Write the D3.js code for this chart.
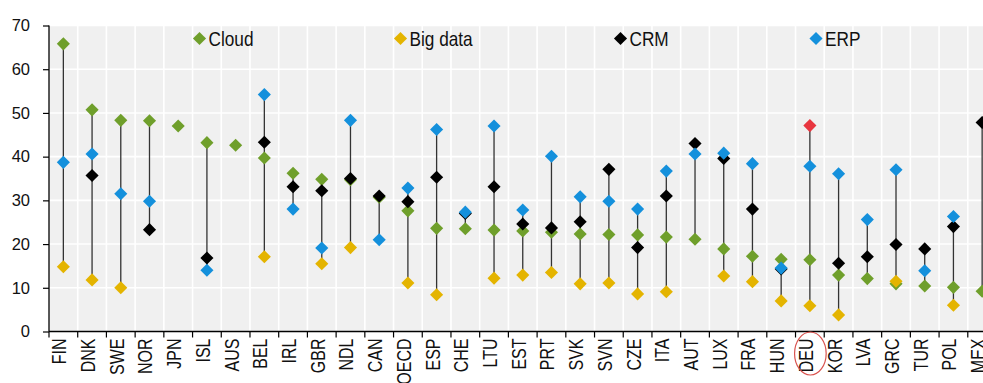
<!DOCTYPE html>
<html>
<head>
<meta charset="utf-8">
<script src="https://cdn.jsdelivr.net/npm/d3@7"></script>
<style>
  html, body { margin: 0; padding: 0; background: #ffffff; overflow: hidden; }
  svg { display: block; }
</style>
</head>
<body>
<div id="chart"></div>
<script>
// Countries along the horizontal axis
const categories = ["FIN","DNK","SWE","NOR","JPN","ISL","AUS","BEL","IRL","GBR","NDL","CAN","OECD","ESP","CHE","LTU","EST","PRT","SVK","SVN","CZE","ITA","AUT","LUX","FRA","HUN","DEU","KOR","LVA","GRC","TUR","POL","MEX"];

// Share of firms using each technology (%); null = not available
const cloud   = [65.8,50.7,48.3,48.2,47.0,43.2,42.6,39.7,36.2,34.8,34.7,30.7,27.6,23.6,23.5,23.2,23.0,22.7,22.3,22.2,22.1,21.6,21.1,18.9,17.2,16.5,16.4,12.9,12.1,10.9,10.4,10.1,9.2];
const bigData = [14.8,11.8,10.0,null,null,null,null,17.1,null,15.5,19.2,null,11.1,8.4,null,12.2,12.9,13.5,10.9,11.1,8.6,9.1,null,12.7,11.4,7.0,5.9,3.8,null,11.5,null,6.0,null];
const crm     = [null,35.7,null,23.3,null,16.8,null,43.3,33.1,32.2,35.0,31.0,29.7,35.3,27.0,33.1,24.6,23.7,25.1,37.1,19.2,31.0,43.0,39.6,28.0,14.3,47.1,15.6,17.1,19.9,18.9,24.0,47.8];
const erp     = [38.7,40.6,31.5,29.8,null,14.0,null,54.2,28.0,19.1,48.3,21.0,32.8,46.2,27.3,47.0,27.8,40.1,30.8,29.8,28.0,36.7,40.6,40.8,38.4,14.5,37.8,36.1,25.6,37.0,13.9,26.3,null];

const seriesNames = ["Cloud","Big data","CRM","ERP"];
const yTicks = [0,10,20,30,40,50,60,70];
const highlightCountry = "DEU";

const colors = { "Cloud": "#6f9f2b", "Big data": "#e4b400", "CRM": "#000000", "ERP": "#1490dc" };
const highlightColor = "#e8363f";

const series = [
  { name: "Cloud", values: cloud },
  { name: "Big data", values: bigData },
  { name: "CRM", values: crm },
  { name: "ERP", values: erp }
];

// Pick a condensed face if one is installed, otherwise squeeze the regular one
function fontExists(name) {
  const ctx = document.createElement("canvas").getContext("2d");
  const probe = "FIN Cloud Big data mmmWW";
  ctx.font = "20px monospace";
  const base = ctx.measureText(probe).width;
  ctx.font = `20px '${name}', monospace`;
  return ctx.measureText(probe).width !== base;
}
const narrowAvailable = fontExists("Liberation Sans Narrow");
const narrowFamily = narrowAvailable ? "'Liberation Sans Narrow', 'Arial Narrow', sans-serif" : "'Liberation Sans', Arial, sans-serif";
const squeeze = narrowAvailable ? 1 : 0.82;
const regularFamily = "'Liberation Sans', Arial, sans-serif";

const W = 983, H = 383;
const svg = d3.select("#chart").append("svg").attr("width", W).attr("height", H);

const x = d3.scaleBand().domain(categories).range([49, 996.5]).padding(0);
const y = d3.scaleLinear().domain([0, 70]).range([331.5, 25.5]);
const cx = c => x(c) + x.bandwidth() / 2;

// Plot background and white grid
svg.append("rect")
  .attr("x", x.range()[0]).attr("y", y(70))
  .attr("width", x.range()[1] - x.range()[0]).attr("height", y(0) - y(70))
  .attr("fill", "#f0f0f0");

const grid = svg.append("g").attr("stroke", "#ffffff").attr("stroke-width", 1.6);
grid.selectAll("line.h").data(yTicks.filter(t => t > 0)).join("line")
  .attr("x1", x.range()[0]).attr("x2", x.range()[1])
  .attr("y1", d => y(d)).attr("y2", d => y(d));
grid.selectAll("line.v").data(categories.slice(1)).join("line")
  .attr("x1", d => x(d)).attr("x2", d => x(d))
  .attr("y1", y(70)).attr("y2", y(0));

// Y axis
const yAxis = svg.append("g").attr("transform", `translate(${x.range()[0]},0)`)
  .call(d3.axisLeft(y).tickValues(yTicks).tickSize(6).tickPadding(13).tickFormat(d3.format("d")));
yAxis.select(".domain").attr("stroke", "#000").attr("stroke-width", 1.3).attr("d", `M0,${y(70)}V${y(0)}`);
yAxis.selectAll(".tick line").attr("stroke", "#000").attr("stroke-width", 1.2);
yAxis.selectAll(".tick text")
  .attr("font-family", regularFamily).attr("font-size", 16.5).attr("fill", "#111");

// X axis: ticks at category boundaries, labels rotated under each category
const xAxis = svg.append("g").attr("transform", `translate(0,${y(0)})`)
  .call(d3.axisBottom(x).tickSize(0).tickPadding(0));
xAxis.select(".domain").attr("stroke", "#000").attr("stroke-width", 1.3)
  .attr("d", `M${x.range()[0]},0H${x.range()[1]}`);
xAxis.selectAll(".tick text")
  .attr("font-family", narrowFamily).attr("font-size", 19.5).attr("fill", "#111")
  .attr("text-anchor", "end")
  .attr("x", 0).attr("y", 0).attr("dy", null)
  .attr("transform", `translate(3,7) rotate(-90) scale(${squeeze},1)`);
xAxis.append("g").selectAll("line").data(categories).join("line")
  .attr("x1", d => x(d)).attr("x2", d => x(d))
  .attr("y1", 0).attr("y2", 6)
  .attr("stroke", "#000").attr("stroke-width", 1.2);

// Range lines joining the lowest and highest value of each country
const ranges = categories.map((c, i) => {
  const vals = series.map(s => s.values[i]).filter(v => v != null);
  return { c, lo: d3.min(vals), hi: d3.max(vals) };
}).filter(r => r.hi > r.lo);
svg.append("g").selectAll("line").data(ranges).join("line")
  .attr("x1", d => cx(d.c)).attr("x2", d => cx(d.c))
  .attr("y1", d => y(d.lo)).attr("y2", d => y(d.hi))
  .attr("stroke", "#333333").attr("stroke-width", 1.3);

// Diamond markers
const diamond = d3.symbol().type(d3.symbolSquare).size(86);
series.forEach(s => {
  const pts = categories.map((c, i) => ({ c, v: s.values[i] })).filter(p => p.v != null);
  svg.append("g").selectAll("path").data(pts).join("path")
    .attr("d", diamond)
    .attr("transform", d => `translate(${cx(d.c)},${y(d.v)}) rotate(45)`)
    .attr("fill", d => (s.name === "CRM" && d.c === highlightCountry) ? highlightColor : colors[s.name]);
});

// Legend across the top of the plot
const legendX = [199.5, 400.5, 620.5, 816];
const legend = svg.append("g");
seriesNames.forEach((name, i) => {
  const g = legend.append("g").attr("transform", `translate(${legendX[i]},38.5)`);
  g.append("path").attr("d", diamond).attr("transform", "rotate(45)").attr("fill", colors[name]);
  g.append("text")
    .attr("transform", `translate(9,7.5) scale(${squeeze},1)`)
    .attr("font-family", narrowFamily).attr("font-size", 21).attr("fill", "#111")
    .text(name);
});

// Ring around the highlighted country label
svg.append("ellipse")
  .attr("cx", cx(highlightCountry) + 0.5).attr("cy", 353.5)
  .attr("rx", 15.8).attr("ry", 21.5)
  .attr("fill", "none").attr("stroke", "#d9534f").attr("stroke-width", 1.2);
</script>
</body>
</html>
